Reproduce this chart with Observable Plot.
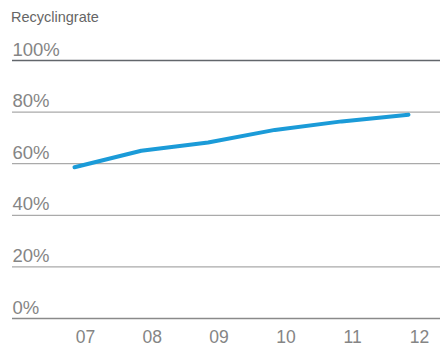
<!DOCTYPE html>
<html>
<head>
<meta charset="utf-8">
<script src="https://cdn.jsdelivr.net/npm/d3@7"></script>
<script src="https://cdn.jsdelivr.net/npm/@observablehq/plot@0.6"></script>
<style>
  html, body { margin: 0; padding: 0; background: #fff; }
  #title { font-family: "Liberation Sans", Arial, sans-serif; font-size: 14.5px; color: #666; height: 30px; line-height: 30px; padding-left: 11px; box-sizing: border-box; position: absolute; top: 2px; left: 0; }
  #chart { position: absolute; top: 30px; left: 0; }
</style>
</head>
<body>
<div id="title">Recyclingrate</div>
<div id="chart"></div>
<script>
const years = [7, 8, 9, 10, 11, 12];
const yearLabels = ["07", "08", "09", "10", "11", "12"];
const rates = [58.6, 65.0, 68.2, 73.1, 76.4, 79.0];
const yTicks = [0, 20, 40, 60, 80, 100];
const yTickLabels = ["0%", "20%", "40%", "60%", "80%", "100%"];

const data = years.map((y, i) => ({year: y, rate: rates[i]}));
const yt = yTicks.map((v, i) => ({v, label: yTickLabels[i]}));
const xt = years.map((v, i) => ({v, label: yearLabels[i]}));

const font = "Liberation Sans, Arial, sans-serif";
const chart = Plot.plot({
  width: 440,
  height: 315,
  marginLeft: 74,
  marginRight: 32,
  marginTop: 30,
  marginBottom: 27,
  x: {domain: [7, 12], axis: null},
  y: {domain: [0, 100], axis: null},
  style: {fontFamily: font, background: "#fff"},
  marks: [
    Plot.ruleY(yt, {y: "v", stroke: d => d.v === 100 ? "#62666b" : d.v === 0 ? "#8a8a8a" : "#aaaaaa", strokeWidth: 1.3, insetLeft: -62, insetRight: -32}),
    Plot.text(yt, {y: "v", text: "label", frameAnchor: "left", textAnchor: "start", dx: -62, dy: -5, lineAnchor: "bottom", fontSize: 18.5, fill: "#858585"}),
    Plot.text(xt, {x: "v", text: "label", frameAnchor: "bottom", dx: 11, dy: 24, lineAnchor: "bottom", fontSize: 17.5, fill: "#858585"}),
    Plot.line(data, {x: "year", y: "rate", stroke: "#1b9bd8", strokeWidth: 4, strokeLinejoin: "round"})
  ]
});
document.getElementById("chart").appendChild(chart);
</script>
</body>
</html>
